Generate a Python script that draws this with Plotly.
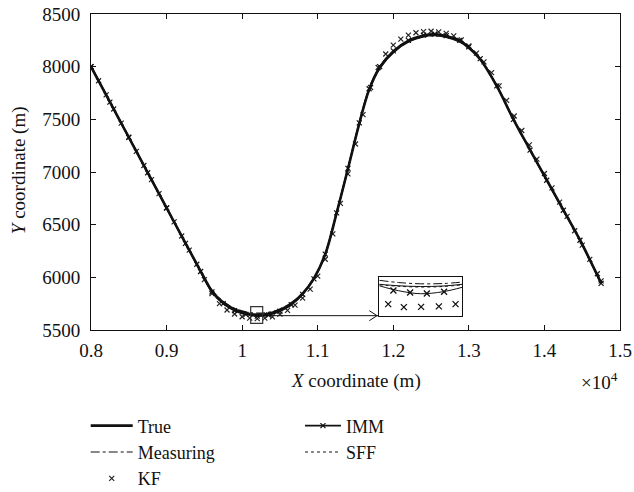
import plotly.graph_objects as go

# ---------------- data ----------------
x_path = [8000, 8250, 8500, 8750, 9000, 9250, 9450, 9600, 9750, 9900, 10050, 10200,
          10350, 10500, 10650, 10800, 10950, 11100, 11250, 11400, 11550, 11680, 11820,
          12000, 12200, 12400, 12550, 12700, 12880, 13000, 13150, 13370, 13590, 13810,
          14030, 14250, 14470, 14750]
y_true = [8000, 7665, 7330, 6995, 6660, 6325, 6060, 5870, 5760, 5695, 5660, 5645,
          5655, 5690, 5750, 5845, 5990, 6220, 6610, 7030, 7460, 7780, 7990,
          8140, 8240, 8290, 8300, 8285, 8240, 8180, 8070, 7815, 7500, 7210,
          6925, 6640, 6355, 5945]
y_meas = [8005, 7668, 7334, 6998, 6664, 6328, 6066, 5878, 5770, 5706, 5672, 5660,
          5668, 5700, 5758, 5850, 5994, 6222, 6608, 7026, 7455, 7774, 7984,
          8134, 8234, 8284, 8294, 8280, 8236, 8176, 8068, 7814, 7502, 7212,
          6928, 6643, 6358, 5948]
y_imm = [8000, 7663, 7328, 6993, 6658, 6322, 6055, 5862, 5750, 5684, 5648, 5632,
         5642, 5678, 5740, 5838, 5986, 6220, 6612, 7034, 7466, 7790, 8000,
         8150, 8250, 8300, 8310, 8295, 8250, 8188, 8076, 7818, 7500, 7208,
         6922, 6637, 6352, 5942]
y_sff = [8000, 7664, 7329, 6994, 6659, 6324, 6058, 5867, 5756, 5691, 5655, 5640,
         5650, 5686, 5746, 5842, 5988, 6220, 6611, 7032, 7463, 7785, 7995,
         8145, 8245, 8295, 8305, 8290, 8245, 8184, 8073, 7816, 7500, 7209,
         6923, 6638, 6353, 5943]

x_kf = [8000, 8100, 8200, 8300, 8400, 8500, 8600, 8700, 8800, 8900, 9000, 9100,
        9200, 9300, 9400, 9500, 9600, 9700, 9800, 9900, 10000, 10100, 10200, 10300,
        10400, 10500, 10600, 10700, 10800, 10900, 11000, 11100, 11200, 11300, 11400,
        11500, 11600, 11700, 11800, 11900, 12000, 12100, 12200, 12300, 12400, 12500,
        12600, 12700, 12800, 12900, 13000, 13100, 13200, 13300, 13400, 13500, 13600,
        13700, 13800, 13900, 14000, 14100, 14200, 14300, 14400, 14500, 14600, 14700,
        14750]
y_kf = [8000, 7866, 7732, 7598, 7464, 7330, 7196, 7062, 6928, 6794, 6660, 6526,
        6392, 6258, 6124, 5978, 5846, 5750, 5690, 5652, 5626, 5612, 5608, 5612,
        5625, 5650, 5686, 5736, 5802, 5888, 6012, 6172, 6412, 6702, 6982,
        7266, 7545, 7802, 7992, 8120, 8204, 8262, 8300, 8322, 8333, 8336,
        8331, 8316, 8292, 8254, 8198, 8128, 8046, 7944, 7818, 7680, 7532,
        7394, 7258, 7122, 6986, 6850, 6714, 6578, 6442, 6306, 6170, 6034,
        5966]

# zoomed inset (region of the small square)
ix_line = [10113, 10150, 10192, 10235, 10272]
iy_true = [5690, 5684, 5681, 5683, 5690]
iy_meas = [5706, 5697, 5692, 5693, 5699]
iy_sff = [5688, 5682, 5679, 5681, 5688]
iy_imm_line = [5684, 5664, 5652, 5660, 5678]
ix_imm = [10140, 10172, 10204, 10237]
iy_imm = [5665, 5657, 5653, 5660]
ix_kf = [10130, 10160, 10193, 10227, 10259]
iy_kf = [5610, 5598, 5599, 5601, 5610]

x_tickvals = [8000, 9000, 10000, 11000, 12000, 13000, 14000, 15000]
x_ticktext = ["0.8", "0.9", "1", "1.1", "1.2", "1.3", "1.4", "1.5"]
y_tickvals = [5500, 6000, 6500, 7000, 7500, 8000, 8500]

FONT = "Liberation Serif"
BLACK = "#111111"
FS = 19
LFS = 18

fig = go.Figure()

# main traces
fig.add_trace(go.Scatter(x=x_kf, y=y_kf, mode="markers", name="KF",
                         marker=dict(symbol="x-thin", size=5, line=dict(width=1.2, color="#222")),
                         legend="legend", legendgroup="kf", legendrank=3))
fig.add_trace(go.Scatter(x=x_path, y=y_meas, mode="lines", name="Measuring",
                         line=dict(color=BLACK, width=1.2, dash="dashdot", shape="spline"),
                         legend="legend", legendgroup="meas", legendrank=2))
fig.add_trace(go.Scatter(x=x_path, y=y_sff, mode="lines", name="SFF",
                         line=dict(color=BLACK, width=1.2, dash="dot", shape="spline"),
                         legend="legend2", legendgroup="sff", legendrank=5))
fig.add_trace(go.Scatter(x=x_path, y=y_imm, mode="lines+markers", name="IMM",
                         line=dict(color=BLACK, width=1.8, shape="spline"),
                         marker=dict(symbol="x-thin", size=5, line=dict(width=1.2, color=BLACK)),
                         legend="legend2", legendgroup="imm", legendrank=4))
fig.add_trace(go.Scatter(x=x_path, y=y_true, mode="lines", name="True",
                         line=dict(color=BLACK, width=2.6, shape="spline"),
                         legend="legend", legendgroup="true", legendrank=1))

# inset traces
fig.add_trace(go.Scatter(x=ix_line, y=iy_meas, mode="lines", xaxis="x2", yaxis="y2", showlegend=False,
                         line=dict(color=BLACK, width=1, dash="dashdot", shape="spline")))
fig.add_trace(go.Scatter(x=ix_line, y=iy_sff, mode="lines", xaxis="x2", yaxis="y2", showlegend=False,
                         line=dict(color=BLACK, width=1, dash="dot", shape="spline")))
fig.add_trace(go.Scatter(x=ix_line, y=iy_true, mode="lines", xaxis="x2", yaxis="y2", showlegend=False,
                         line=dict(color=BLACK, width=1, shape="spline")))
fig.add_trace(go.Scatter(x=ix_line, y=iy_imm_line, mode="lines", xaxis="x2", yaxis="y2", showlegend=False,
                         line=dict(color=BLACK, width=1, shape="spline")))
fig.add_trace(go.Scatter(x=ix_imm, y=iy_imm, mode="markers", xaxis="x2", yaxis="y2", showlegend=False,
                         marker=dict(symbol="x-thin", size=6, line=dict(width=1.3, color=BLACK))))
fig.add_trace(go.Scatter(x=ix_kf, y=iy_kf, mode="markers", xaxis="x2", yaxis="y2", showlegend=False,
                         marker=dict(symbol="x-thin", size=6, line=dict(width=1.3, color=BLACK))))

axis_common = dict(showline=True, linecolor=BLACK, linewidth=1, mirror="ticks",
                   ticks="inside", ticklen=5, tickcolor=BLACK, showgrid=False, zeroline=False,
                   tickfont=dict(family=FONT, size=FS, color=BLACK))

fig.update_layout(
    width=634, height=492,
    margin=dict(l=91, r=14, t=14, b=162, autoexpand=False),
    paper_bgcolor="white", plot_bgcolor="white",
    font=dict(family=FONT, size=FS, color=BLACK),
    xaxis=dict(range=[8000, 15000], tickvals=x_tickvals, ticktext=x_ticktext,
               ticklabelstandoff=3, automargin=False, **axis_common),
    yaxis=dict(range=[5500, 8500], tickvals=y_tickvals, ticklabelstandoff=6,
               automargin=False, **axis_common),
    xaxis2=dict(domain=[0.545, 0.702], range=[10113, 10272], anchor="y2",
                showline=True, mirror=True, linecolor=BLACK, linewidth=1,
                showticklabels=False, ticks="", showgrid=False, zeroline=False),
    yaxis2=dict(domain=[0.045, 0.169], range=[5563, 5721], anchor="x2",
                showline=True, mirror=True, linecolor=BLACK, linewidth=1,
                showticklabels=False, ticks="", showgrid=False, zeroline=False),
    legend=dict(x=-0.01, y=-0.245, xanchor="left", yanchor="top",
                traceorder="grouped", tracegroupgap=0, itemwidth=42,
                font=dict(family=FONT, size=LFS, color=BLACK), bgcolor="rgba(0,0,0,0)"),
    legend2=dict(x=0.395, y=-0.245, xanchor="left", yanchor="top",
                 traceorder="grouped", tracegroupgap=0, itemwidth=36,
                 font=dict(family=FONT, size=LFS, color=BLACK), bgcolor="rgba(0,0,0,0)"),
    showlegend=True,
)

# small zoom square, arrow
fig.add_shape(type="rect", xref="x", yref="y", x0=10113, x1=10272, y0=5563, y1=5721,
              line=dict(color="#333", width=1.2))
fig.add_shape(type="line", xref="x", yref="y", x0=10272, x1=11800, y0=5636, y1=5636,
              line=dict(color=BLACK, width=1))
fig.add_shape(type="path", xref="x", yref="y",
              path="M 11683 5683 L 11785 5636 L 11683 5589",
              line=dict(color=BLACK, width=1))

# axis titles
fig.add_annotation(text="<i>X</i> coordinate (m)", xref="paper", yref="paper",
                   x=0.5, y=-0.161, xanchor="center", yanchor="middle", showarrow=False,
                   font=dict(family=FONT, size=FS, color=BLACK))
fig.add_annotation(text="×10<sup>4</sup>", xref="paper", yref="paper",
                   x=1.0, y=-0.161, xanchor="right", yanchor="middle", showarrow=False,
                   font=dict(family=FONT, size=FS, color=BLACK))
fig.add_annotation(text="<i>Y</i> coordinate (m)", xref="paper", yref="paper",
                   x=-0.136, y=0.506, xanchor="center", yanchor="middle", showarrow=False,
                   textangle=-90, font=dict(family=FONT, size=FS, color=BLACK))

fig.write_html("out.html", config={"displayModeBar": False},
               post_script="document.body.style.margin='0';document.body.style.padding='0';")
